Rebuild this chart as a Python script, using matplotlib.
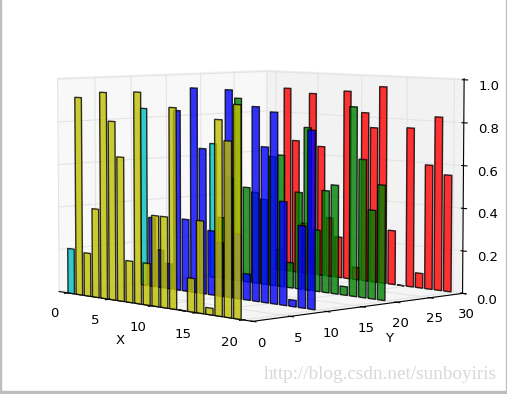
import numpy as np
import matplotlib
matplotlib.use('Agg')
import matplotlib.pyplot as plt
from matplotlib.patches import Rectangle

xs = np.arange(20)
planes = [30, 20, 10, 0]
colors = ['r', 'g', 'b', 'y']
red_vals = [0.10, 0.92, 0.66, 0.25, 0.90, 0.64, 0.29, 0.20, 0.92, 0.06, 0.82, 0.75, 0.95, 0.26, 0.00, 0.76, 0.07, 0.59, 0.82, 0.55]
green_vals = [0.66, 0.30, 0.50, 0.89, 0.46, 0.44, 0.41, 0.62, 0.63, 0.12, 0.46, 0.77, 0.29, 0.48, 0.51, 0.04, 0.88, 0.64, 0.41, 0.53]
blue_vals = [0.85, 0.33, 0.18, 0.12, 0.85, 0.34, 0.96, 0.68, 0.30, 0.25, 0.96, 0.30, 0.12, 0.89, 0.71, 0.87, 0.47, 0.03, 0.37, 0.80]
yellow_vals = [0.21, 0.92, 0.20, 0.41, 0.95, 0.82, 0.66, 0.19, 0.96, 0.19, 0.41, 0.41, 0.90, 0.00, 0.15, 0.41, 0.03, 0.86, 0.77, 0.93]
series = [red_vals, green_vals, blue_vals, yellow_vals]

plt.rcParams['grid.color'] = '#e4e4e4'

fig = plt.figure(figsize=(5.07, 3.94), dpi=100)
ax = fig.add_axes([-0.041, -0.052, 1.085, 1.13], projection='3d')

for c, k, vals in zip(colors, planes, series):
    cs = [c] * len(xs)
    cs[0] = 'c'
    ax.bar(xs, vals, zs=k, zdir='y', color=cs, alpha=0.8, edgecolor='k', linewidth=1, align='edge')

ax.set_xlim(-1.1, 21.0)
ax.set_ylim(0, 30)
ax.set_zlim(0, 1.005)
ax.set_xticks([0, 5, 10, 15, 20])
ax.set_yticks([0, 5, 10, 15, 20, 25, 30])
ax.set_zticks([0, 0.2, 0.4, 0.6, 0.8, 1.0])
ax.tick_params(labelsize=9.5, pad=2)
ax.set_xlabel('X', fontsize=9.5, labelpad=2)
ax.set_ylabel('Y', fontsize=9.5, labelpad=0)
for axis in (ax.xaxis, ax.yaxis, ax.zaxis):
    axis.pane.set_edgecolor('#e8e8e8')
ax.view_init(elev=5, azim=-43)

# nudge the tick labels, mplot3d places them a bit differently from the original
for label in ax.get_xticklabels():
    label.set_va('top')
for label in ax.get_yticklabels():
    label.set_ha('right')

# screenshot border and watermark
border = '#bdbdbd'
fig.add_artist(Rectangle((0, 0), 1 / 507, 1, transform=fig.transFigure, color=border))
fig.add_artist(Rectangle((506 / 507, 0), 1 / 507, 1, transform=fig.transFigure, color=border))
fig.add_artist(Rectangle((0, 0), 1, 3 / 394, transform=fig.transFigure, color=border))
fig.text(0.98, 0.027, 'http://blog.csdn.net/sunboyiris', ha='right', va='bottom',
         family='Liberation Serif', fontsize=13.8, color='#d8d8d8')

fig.savefig('out.png', dpi=100)
